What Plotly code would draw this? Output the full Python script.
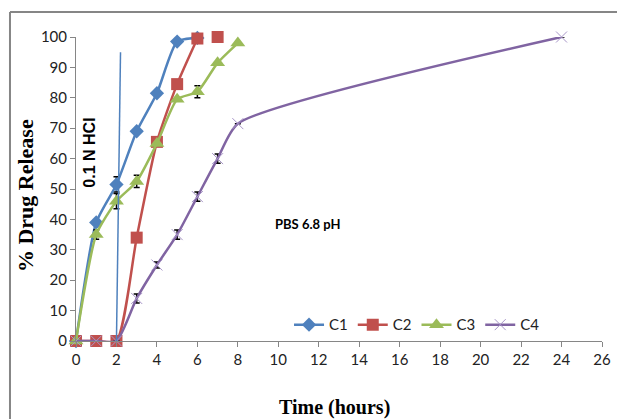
import plotly.graph_objects as go

# Data
c1_x = [0, 1, 2, 3, 4, 5, 6]
c1_y = [0, 39, 51.5, 69, 81.5, 98.5, 99.7]
c1_err = [0, 0, 2.5, 0, 0, 0, 0]

c2_x = [0, 1, 2, 3, 4, 5, 6]
c2_y = [0, 0, 0, 34, 65.5, 84.5, 99.5]
c2_extra_x = [7]
c2_extra_y = [100]

c3_x = [0, 1, 2, 3, 4, 5, 6, 7, 8]
c3_y = [0, 35, 46, 52.5, 65, 79.5, 82, 91.5, 98]
c3_err = [0, 1.5, 2.5, 2, 0, 0, 2, 0, 0]

c4_x = [0, 1, 2, 3, 4, 5, 6, 7, 8, 24]
c4_y = [0, 0, 0, 14, 25, 35, 47.5, 60, 71.5, 100]
c4_err = [0, 0, 0, 1.5, 1, 1.5, 1.5, 1.5, 0, 0]

x_ticks = list(range(0, 27, 2))
y_ticks = list(range(0, 101, 10))

BLUE = "#4F81BD"
RED = "#C0504D"
GREEN = "#9BBB59"
PURPLE = "#8064A2"

tick_font = dict(family="Lato, sans-serif", size=15, color="#222")

fig = go.Figure()

def err(vals):
    return dict(type="data", array=vals, visible=True, color="black", thickness=1.5, width=3)

SM = 0.6

fig.add_trace(go.Scatter(
    x=c1_x, y=c1_y, name="C1", mode="lines+markers",
    line=dict(color=BLUE, width=2.5, shape="spline", smoothing=SM),
    marker=dict(symbol="diamond", size=11, color=BLUE),
    error_y=err(c1_err), cliponaxis=False))

fig.add_trace(go.Scatter(
    x=c2_x, y=c2_y, name="C2", mode="lines+markers", legendgroup="c2",
    line=dict(color=RED, width=2.5, shape="spline", smoothing=SM),
    marker=dict(symbol="square", size=12, color=RED), cliponaxis=False))
fig.add_trace(go.Scatter(
    x=c2_extra_x, y=c2_extra_y, name="C2", mode="markers", legendgroup="c2",
    showlegend=False, marker=dict(symbol="square", size=12, color=RED), cliponaxis=False))

fig.add_trace(go.Scatter(
    x=c3_x, y=c3_y, name="C3", mode="lines+markers",
    line=dict(color=GREEN, width=2.5, shape="spline", smoothing=SM),
    marker=dict(symbol="triangle-up", size=13, color=GREEN),
    error_y=err(c3_err), cliponaxis=False))

fig.add_trace(go.Scatter(
    x=c4_x, y=c4_y, name="C4", mode="lines+markers",
    line=dict(color=PURPLE, width=2.5, shape="spline", smoothing=0.6),
    marker=dict(symbol="x-thin-open", size=11, color="#A896C8", line=dict(width=1, color="#A896C8")),
    error_y=err(c4_err), cliponaxis=False))

# HCl boundary line
fig.add_shape(type="line", xref="x", yref="y", x0=2, y0=0, x1=2.2, y1=95,
              line=dict(color=BLUE, width=1.5))

# outer frame lines (top and left)
fig.add_shape(type="line", xref="paper", yref="paper", x0=-0.1255, y0=1.082, x1=1.1, y1=1.082,
              line=dict(color="#868686", width=2))
fig.add_shape(type="line", xref="paper", yref="paper", x0=-0.1255, y0=1.082, x1=-0.1255, y1=-0.35,
              line=dict(color="#868686", width=2))

fig.add_annotation(x=0.65, y=62, xref="x", yref="y", text="<b>0.1 N HCl</b>", showarrow=False,
                   textangle=-90, font=dict(family="Liberation Sans, Arial, sans-serif", size=16, color="black"))
fig.add_annotation(x=11.45, y=38.5, xref="x", yref="y", text="<b>PBS 6.8 pH</b>", showarrow=False,
                   font=dict(family="Lato, sans-serif", size=13, color="black"))

fig.add_annotation(x=-0.097, y=0.48, xref="paper", yref="paper", text="<b>% Drug Release</b>",
                   showarrow=False, textangle=-90, xanchor="center", yanchor="middle",
                   font=dict(family="Liberation Serif, Times New Roman, serif", size=22, color="black"))
fig.add_annotation(x=0.492, y=-0.22, xref="paper", yref="paper", text="<b>Time (hours)</b>",
                   showarrow=False, xanchor="center", yanchor="middle",
                   font=dict(family="Liberation Serif, Times New Roman, serif", size=20, color="black"))

fig.update_layout(
    width=617, height=419,
    margin=dict(l=76, r=15, t=37, b=78),
    paper_bgcolor="white", plot_bgcolor="white",
    showlegend=True,
    legend=dict(orientation="h", x=0.405, y=0.053, xanchor="left", yanchor="middle",
                font=tick_font, bgcolor="rgba(0,0,0,0)", tracegroupgap=0),
    xaxis=dict(range=[0, 26], tickvals=x_ticks, ticktext=[str(v) for v in x_ticks],
               showgrid=False, zeroline=False, showline=True, linecolor="#868686", linewidth=1,
               ticks="outside", ticklen=5, tickcolor="#868686", tickfont=tick_font,
               automargin=False),
    yaxis=dict(range=[0, 100], tickvals=y_ticks, ticktext=[str(v) for v in y_ticks],
               showgrid=False, zeroline=False, showline=True, linecolor="#868686", linewidth=1,
               ticks="outside", ticklen=5, tickcolor="#868686", tickfont=tick_font,
               automargin=False),
)

fig.write_html("out.html", config={"displayModeBar": False},
               post_script="document.body.style.margin='0';document.body.style.overflow='hidden';")
